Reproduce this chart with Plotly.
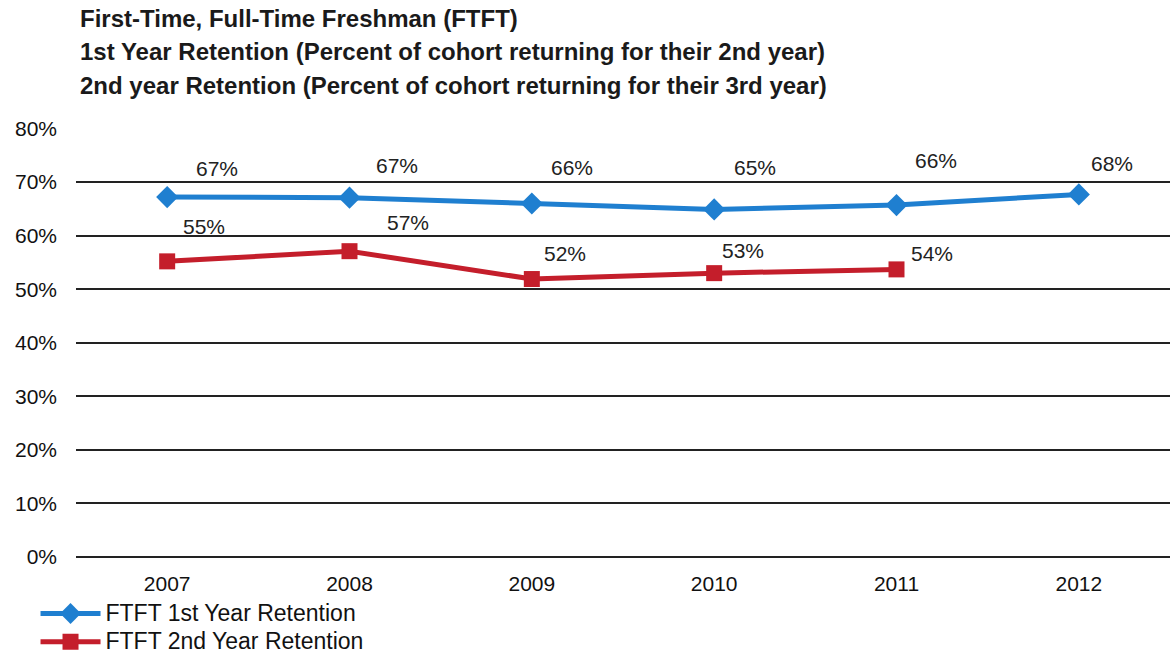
import plotly.graph_objects as go

years = ["2007", "2008", "2009", "2010", "2011", "2012"]
first_year = [0.672, 0.671, 0.660, 0.649, 0.657, 0.677]
first_labels = ["67%", "67%", "66%", "65%", "66%", "68%"]
second_years = ["2007", "2008", "2009", "2010", "2011"]
second_year = [0.552, 0.571, 0.519, 0.530, 0.537]
second_labels = ["55%", "57%", "52%", "53%", "54%"]
y_ticks = [0, 0.1, 0.2, 0.3, 0.4, 0.5, 0.6, 0.7, 0.8]

# label placement offsets (pixels), styling only
first_dx = [50, 47, 40, 41, 39, 33]
first_dy = [29, 32, 36, 42, 45, 31]
second_dx = [37, 58, 33, 29, 35]
second_dy = [35, 29, 26, 23, 16]

BLUE = "#1f7fd0"
RED = "#c41e2b"
FONT = "Liberation Sans, Arial, sans-serif"

fig = go.Figure()
fig.add_trace(go.Scatter(
    x=years, y=first_year, mode="lines+markers",
    name="<span style='font-size:23px'>FTFT 1st Year Retention</span>",
    line=dict(color=BLUE, width=5),
    marker=dict(symbol="diamond", size=17, color=BLUE),
))
fig.add_trace(go.Scatter(
    x=second_years, y=second_year, mode="lines+markers",
    name="<span style='font-size:23px'>FTFT 2nd Year Retention</span>",
    line=dict(color=RED, width=5),
    marker=dict(symbol="square", size=16, color=RED),
))

annotations = []
for i, (y, t) in enumerate(zip(first_year, first_labels)):
    annotations.append(dict(x=i, y=y, text=t, showarrow=False, xref="x", yref="y",
                            xshift=first_dx[i], yshift=first_dy[i],
                            font=dict(family=FONT, size=21, color="#222")))
for i, (y, t) in enumerate(zip(second_year, second_labels)):
    annotations.append(dict(x=i, y=y, text=t, showarrow=False, xref="x", yref="y",
                            xshift=second_dx[i], yshift=second_dy[i],
                            font=dict(family=FONT, size=21, color="#222")))

titles = ["First-Time, Full-Time Freshman (FTFT)",
          "1st Year Retention (Percent of cohort returning for their 2nd year)",
          "2nd year Retention (Percent of cohort returning for their 3rd year)"]
for i, t in enumerate(titles):
    annotations.append(dict(x=0, y=0, xref="paper", yref="paper", xanchor="left", yanchor="middle",
                            xshift=2, yshift=429 + 110 - i * 33.5, text="<b>" + t + "</b>",
                            showarrow=False, font=dict(family=FONT, size=24, color="#1a1a1a")))

fig.update_layout(
    width=1170, height=653,
    margin=dict(l=76, r=0, t=128, b=96, autoexpand=False),
    paper_bgcolor="white", plot_bgcolor="white",
    font=dict(family=FONT, size=21, color="#111"),
    annotations=annotations,
    showlegend=True,
    legend=dict(x=-0.037, y=-0.087, xanchor="left", yanchor="top", orientation="v",
                font=dict(family=FONT, size=19.5, color="#111"), tracegroupgap=0,
                bgcolor="rgba(0,0,0,0)", itemwidth=60),
    xaxis=dict(type="category", range=[-0.5, 5.5], showgrid=False, showline=False,
               ticks="", tickfont=dict(size=21), ticklabelstandoff=12),
    yaxis=dict(range=[0, 0.801], tickvals=y_ticks, tickformat=".0%", showgrid=True,
               gridcolor="#222", gridwidth=1.5, zeroline=True, zerolinecolor="#222",
               zerolinewidth=1.5, showline=False, ticks="", tickfont=dict(size=21),
               ticklabelstandoff=18),
)

fig.write_html(
    "out.html",
    config={"displayModeBar": False},
    post_script="document.body.style.margin='0';document.body.style.overflow='hidden';",
)
